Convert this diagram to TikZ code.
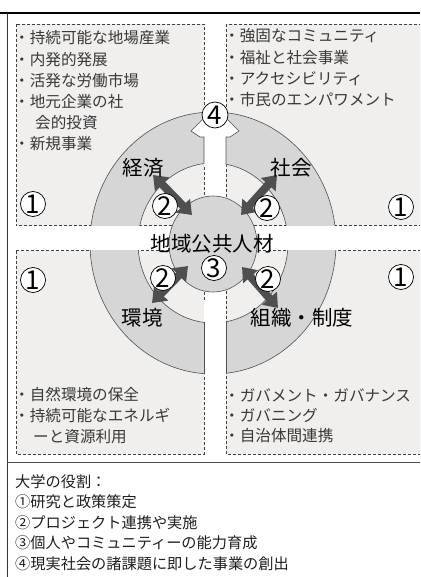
\documentclass[tikz,border=0pt]{standalone}
\usepackage{fontspec}
\setmainfont{Noto Sans CJK JP}
\usetikzlibrary{arrows.meta}
\definecolor{boxfill}{HTML}{F0EFED}
\definecolor{ringfill}{HTML}{D6D6D6}
\definecolor{ringline}{HTML}{505050}
\definecolor{arrowc}{HTML}{4F4F4F}
\begin{document}
\begin{tikzpicture}[x=1pt,y=-1pt,
  boxstyle/.style={fill=boxfill, draw=black!75, dash pattern=on 3pt off 2pt, line width=0.7pt},
  listtext/.style={anchor=west, inner sep=0pt, font=\fontsize{15.6}{18}\selectfont, text=black!78},
  roletext/.style={anchor=west, inner sep=0pt, font=\fontsize{15.2}{18}\selectfont, text=black!88},
  biglabel/.style={inner sep=0pt, font=\fontsize{20.5}{24}\selectfont},
  num/.style={circle, draw=black, line width=0.7pt, fill=white, minimum size=25pt, inner sep=0pt, font=\fontsize{26}{26}\selectfont},
  ringedge/.style={draw=ringline, line width=0.6pt},
  dblarrow/.style={draw=arrowc, line width=8pt, {Triangle[width=19pt,length=13pt]}-{Triangle[width=19pt,length=13pt]}},
]
\useasboundingbox (0,0) rectangle (420,577);
\clip (0,0) rectangle (420,577);

% frame
\draw[line width=2.3pt] (0,12.8) -- (420,12.8);
\draw[line width=0.9pt, black!80] (7.3,12.8) -- (7.3,577);
\draw[line width=0.9pt, black!70] (7.3,462.5) -- (420,462.5);

% quadrant boxes
\path[boxstyle] (16,24) rectangle (204,225.7);
\path[boxstyle] (226,24) rectangle (430,225.7);
\path[boxstyle] (16,250.7) rectangle (204,454);
\path[boxstyle] (226,250.7) rectangle (430,454);

% grey ring
\fill[ringfill, even odd rule] (213,243) ellipse [x radius=123pt, y radius=131pt]
  (213,243) ellipse [x radius=75pt, y radius=80pt];
\draw[ringedge] (213,243) ellipse [x radius=123pt, y radius=131pt];
\draw[ringedge] (213,243) ellipse [x radius=75pt, y radius=80pt];

% white cross cutting the ring
\begin{scope}
  \clip (213,243) ellipse [x radius=124pt, y radius=132pt];
  \fill[white] (60,226.1) rectangle (370,250.3);
  \fill[white] (204.3,300) rectangle (225.7,380);
\end{scope}
\draw[ringedge] (204,322.4) -- (204,373.6);
\draw[ringedge] (226,321.8) -- (226,373.3);

% white arrow towards (4)
\fill[white] (204,167) -- (204,137) -- (200,137) -- (191,131) -- (215,107) -- (239,131) -- (230,137) -- (226,137) -- (226,167) -- cycle;
\draw[ringedge] (204,163.6) -- (204,137) -- (200,137) -- (191,131) -- (215,107) -- (239,131) -- (230,137) -- (226,137) -- (226,164.2);

% centre disc
\path[fill=ringfill, ringedge] (213,244) ellipse [x radius=44pt, y radius=48pt];

% double arrows
\coordinate (tlo) at (153,175);
\coordinate (tli) at (192,215);
\coordinate (tro) at (277,175);
\coordinate (tri) at (241,215);
\coordinate (blo) at (152,303);
\coordinate (bli) at (188,266);
\coordinate (bro) at (278,308);
\coordinate (bri) at (242,267);
\draw[dblarrow] (tlo) -- (tli);
\draw[dblarrow] (tro) -- (tri);
\draw[dblarrow] (blo) -- (bli);
\draw[dblarrow] (bro) -- (bri);

% labels
\node[biglabel] (econ) at (143,168) {経済};
\node[biglabel] (soc) at (291,168) {社会};
\node[biglabel] (env) at (142,318) {環境};
\node[biglabel] (inst) at (302,318) {組織・制度};
\node[biglabel] (core) at (212,243.5) {地域公共人材};

% circled numbers
\node[num] (n1a) at (33,204) {1};
\node[num] (n1b) at (401,207) {1};
\node[num] (n1c) at (33,280) {1};
\node[num] (n1d) at (401,277) {1};
\node[num] (n2a) at (165,206) {2};
\node[num] (n2b) at (267,208) {2};
\node[num] (n2c) at (163,278) {2};
\node[num] (n2d) at (268,279) {2};
\node[num] (n3) at (214,268) {3};
\node[num, minimum size=26pt] (n4) at (215,115) {4};

% lists
\node[listtext] (tl1) at (14,38) {・持続可能な地場産業};
\node[listtext] (tl2) at (14,59.5) {・内発的発展};
\node[listtext] (tl3) at (14,80.5) {・活発な労働市場};
\node[listtext] (tl4) at (14,101.5) {・地元企業の社};
\node[listtext] (tl5) at (35,123) {会的投資};
\node[listtext] (tl6) at (14,144) {・新規事業};

\node[listtext] (tr1) at (224,36) {・強固なコミュニティ};
\node[listtext] (tr2) at (224,57.5) {・福祉と社会事業};
\node[listtext] (tr3) at (224,79) {・アクセシビリティ};
\node[listtext] (tr4) at (224,100) {・市民のエンパワメント};

\node[listtext] (bl1) at (14,394.5) {・自然環境の保全};
\node[listtext] (bl2) at (14,415) {・持続可能なエネルギ};
\node[listtext] (bl3) at (33,436.5) {ーと資源利用};

\node[listtext] (br1) at (224,395) {・ガバメント・ガバナンス};
\node[listtext] (br2) at (224,415) {・ガバニング};
\node[listtext] (br3) at (224,436) {・自治体間連携};

% university roles
\node[roletext] (r0) at (15,481.5) {大学の役割：};
\node[roletext] (r1) at (15,502) {①研究と政策策定};
\node[roletext] (r2) at (15,522.5) {②プロジェクト連携や実施};
\node[roletext] (r3) at (15,543) {③個人やコミュニティーの能力育成};
\node[roletext] (r4) at (15,563.5) {④現実社会の諸課題に即した事業の創出};
\end{tikzpicture}
\end{document}
